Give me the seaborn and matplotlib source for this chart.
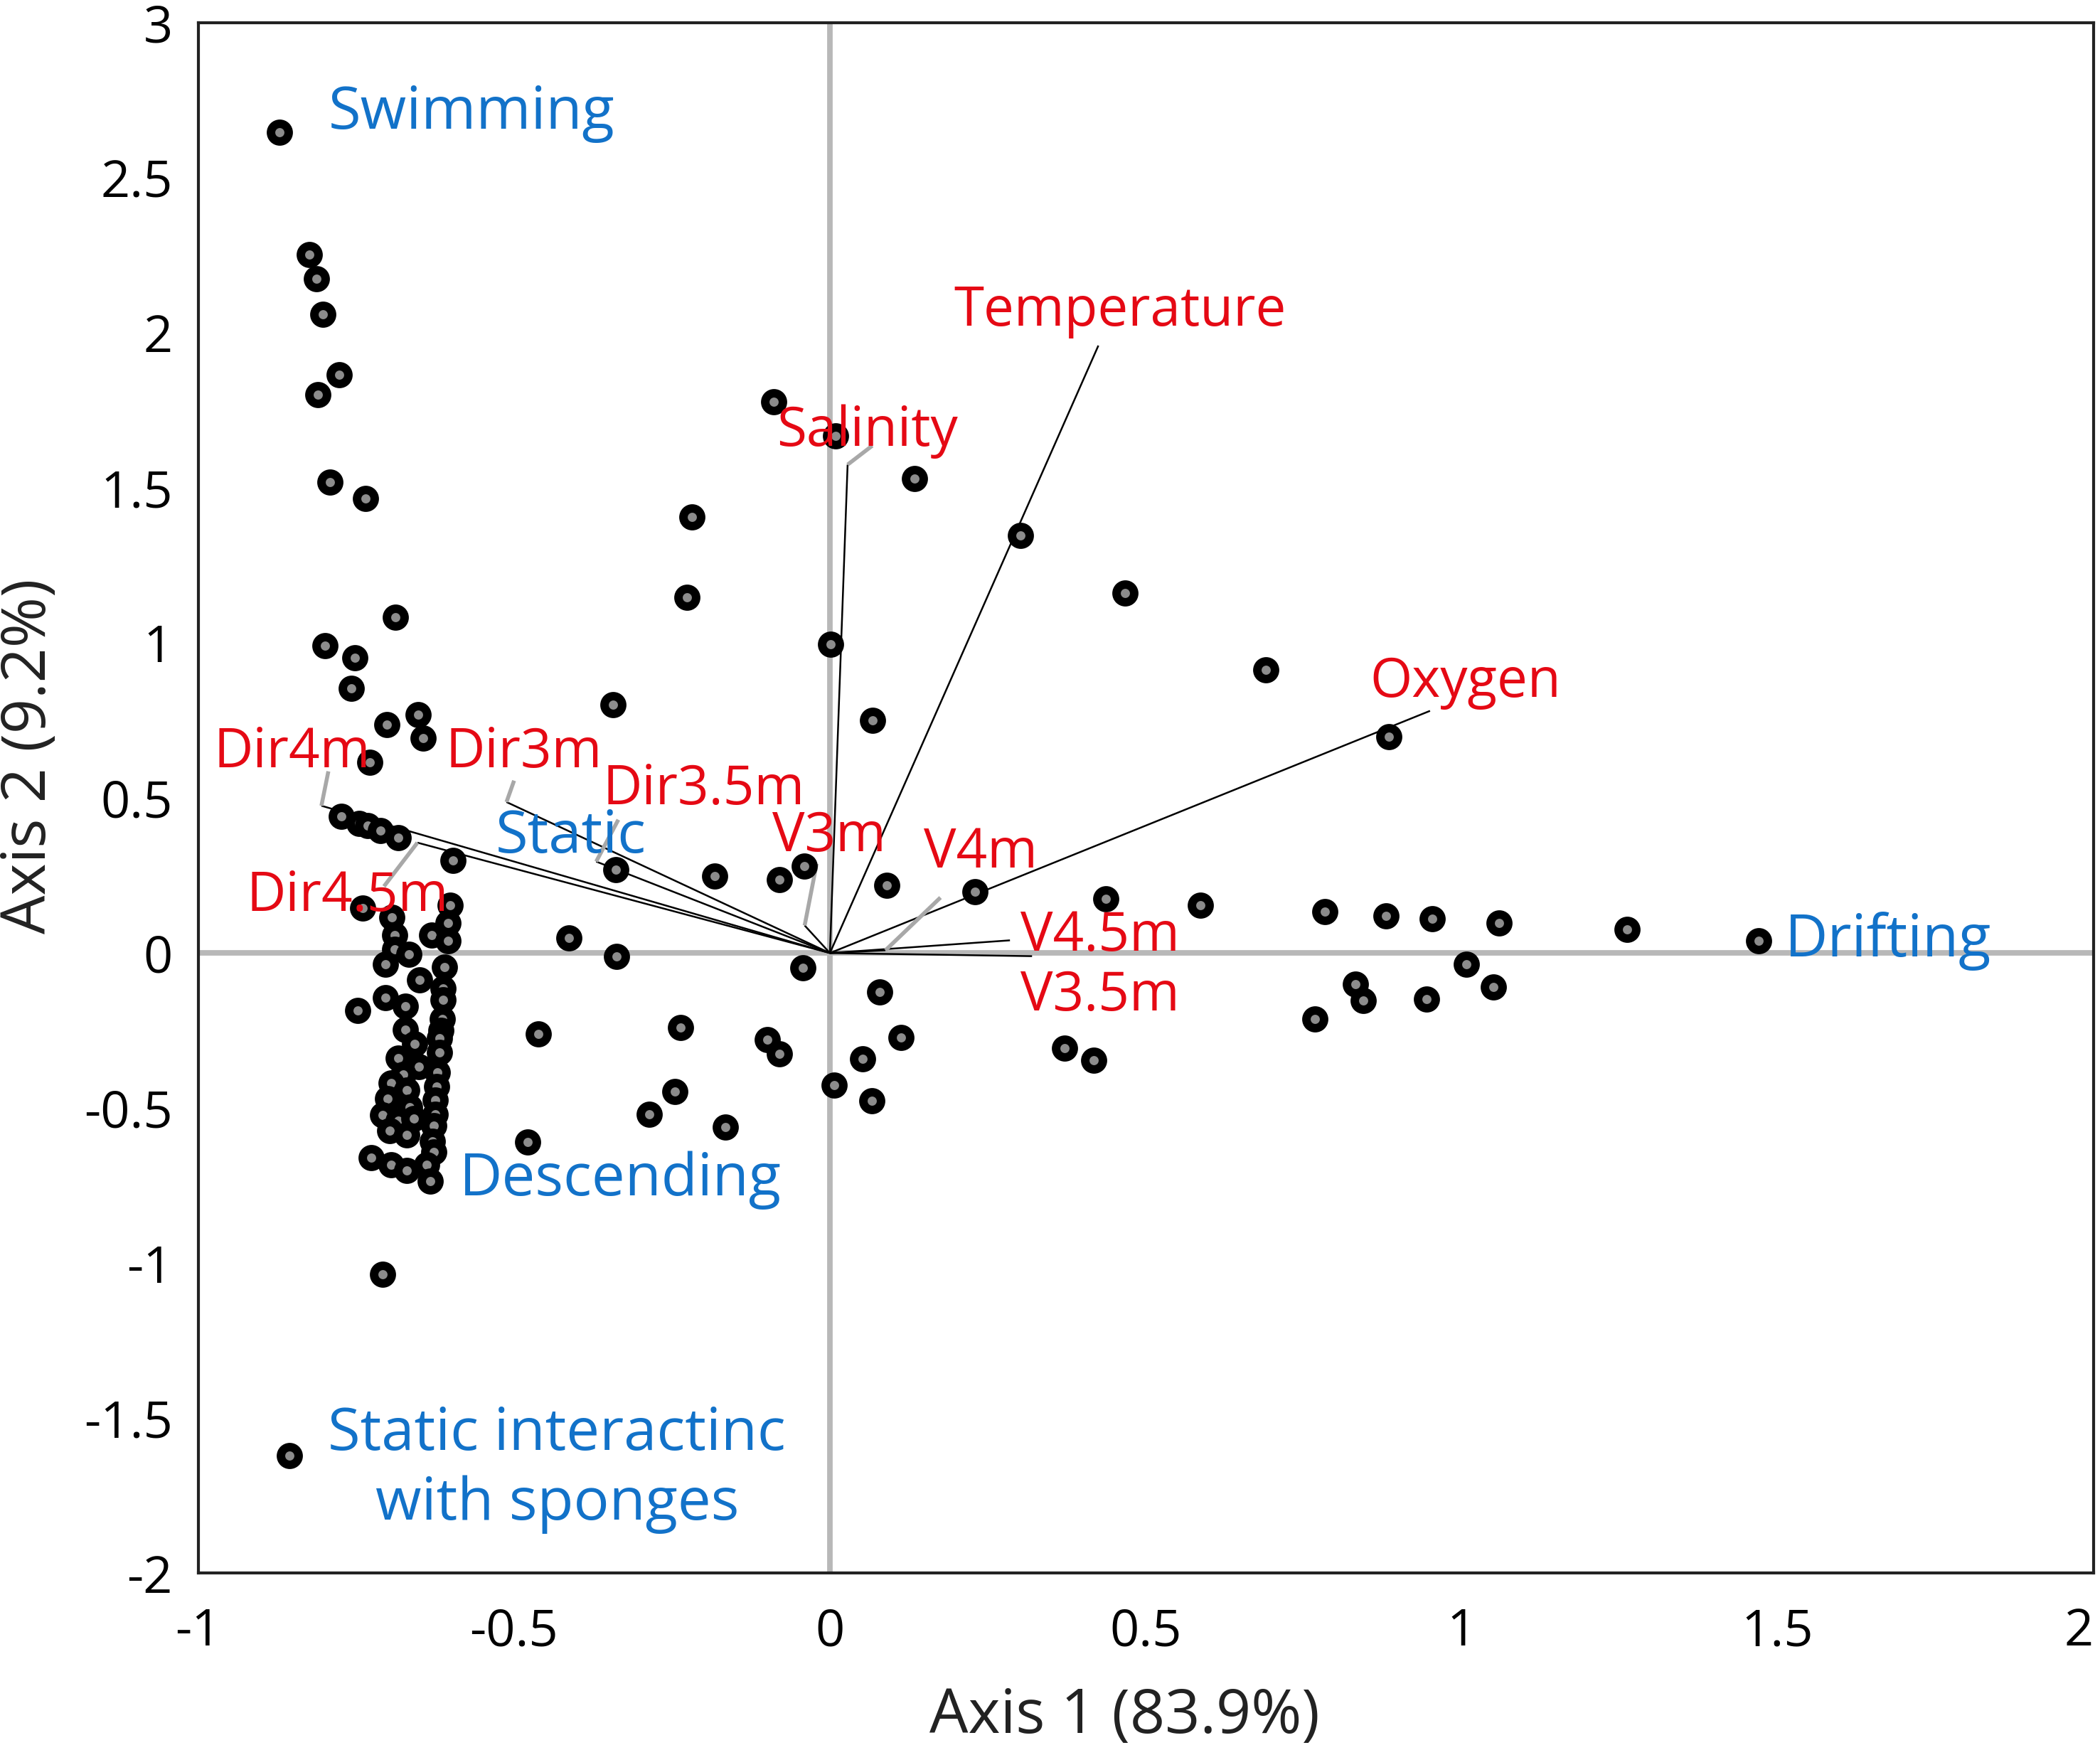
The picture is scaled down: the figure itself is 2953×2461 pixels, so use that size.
import numpy as np
import pandas as pd
import matplotlib
matplotlib.use("Agg")
import matplotlib.pyplot as plt
import seaborn as sns

# ---------------- data ----------------
site_x = [-0.871, -0.824, -0.813, -0.803, -0.777, -0.811, -0.792, -0.735, -0.688, -0.799,
          -0.752, -0.758, -0.701, -0.652, -0.644, -0.728,
          -0.774, -0.745, -0.732, -0.711, -0.683, -0.597,
          -0.740, -0.693, -0.601, -0.605, -0.631, -0.605, -0.689, -0.689, -0.666, -0.704,
          -0.610, -0.650, -0.612, -0.704, -0.672, -0.747, -0.614, -0.612, -0.616,
          -0.672, -0.657, -0.618, -0.618, -0.683, -0.651, -0.621, -0.676, -0.695, -0.670,
          -0.623, -0.700, -0.625, -0.665, -0.708, -0.683, -0.659, -0.625, -0.627, -0.697,
          -0.670, -0.629, -0.627, -0.726, -0.695, -0.670, -0.638, -0.633, -0.708, -0.856,
          -0.413, -0.339, -0.343, -0.338, -0.462, -0.479, -0.237, -0.245, -0.286, -0.166,
          -0.182, -0.218, -0.226, -0.089, -0.099, -0.080, -0.080, -0.040, -0.043, 0.001,
          0.009, 0.007, 0.068, 0.090, 0.079, 0.052, 0.066, 0.113, 0.134, 0.230,
          0.302, 0.467, 0.437, 0.372, 0.418, 0.586, 0.690, 0.885, 0.783, 0.880,
          0.953, 1.059, 0.768, 0.832, 0.844, 0.944, 1.008, 1.050, 1.262, 1.470]
site_y = [2.646, 2.253, 2.175, 2.059, 1.864, 1.800, 1.519, 1.467, 1.083, 0.992,
          0.953, 0.854, 0.737, 0.768, 0.694, 0.616,
          0.441, 0.418, 0.410, 0.395, 0.372, 0.298,
          0.146, 0.116, 0.154, 0.097, 0.058, 0.039, 0.058, 0.013, -0.003, -0.037,
          -0.045, -0.087, -0.113, -0.144, -0.171, -0.186, -0.213, -0.150, -0.250,
          -0.247, -0.293, -0.274, -0.320, -0.339, -0.366, -0.385, -0.392, -0.419, -0.442,
          -0.431, -0.469, -0.473, -0.496, -0.522, -0.541, -0.534, -0.519, -0.557, -0.572,
          -0.587, -0.606, -0.641, -0.660, -0.683, -0.702, -0.683, -0.736, -1.035, -1.620,
          0.049, 0.269, 0.802, -0.010, -0.261, -0.610, -0.241, -0.446, -0.520, -0.561,
          0.249, 1.407, 1.148, 1.778, -0.279, -0.324, 0.237, 0.280, -0.047, 0.996,
          1.667, -0.425, 0.750, 0.219, -0.126, -0.342, -0.476, -0.273, 1.530, 0.198,
          1.346, 1.161, 0.176, -0.307, -0.346, 0.155, 0.914, 0.698, 0.133, 0.120,
          0.111, 0.098, -0.212, -0.100, -0.152, -0.148, -0.035, -0.109, 0.077, 0.040]

var_names = ["Temperature", "Oxygen", "Salinity", "Dir4m", "Dir3m", "Dir3.5m",
             "Dir4.5m", "V3m", "V4m", "V4.5m", "V3.5m"]
var_x = [0.425, 0.950, 0.028, -0.805, -0.512, -0.370, -0.653, -0.040, 0.088, 0.285, 0.320]
var_y = [1.959, 0.781, 1.575, 0.475, 0.487, 0.295, 0.356, 0.089, 0.009, 0.041, -0.010]
# leader (label connector) end points, NaN = no leader
lead_x = [np.nan, np.nan, 0.067, -0.794, -0.500, -0.335, -0.706, -0.021, 0.175, np.nan, np.nan]
lead_y = [np.nan, np.nan, 1.636, 0.586, 0.556, 0.430, 0.215, 0.288, 0.179, np.nan, np.nan]
# label anchors (left, baseline)
var_lab_x = [0.196, 0.855, -0.084, -0.975, -0.608, -0.360, -0.924, -0.091, 0.149, 0.302, 0.302]
var_lab_y = [2.024, 0.826, 1.636, 0.599, 0.599, 0.479, 0.137, 0.328, 0.276, 0.008, -0.186]

group_names = ["Swimming", "Static", "Descending", "Drifting",
               "Static interactinc", "with sponges"]
group_x = [-0.794, -0.529, -0.587, 1.512, -0.432, -0.432]
group_y = [2.659, 0.323, -0.782, -0.010, -1.603, -1.827]
group_ha = ["left", "left", "left", "left", "center", "center"]

x_ticks = [-1, -0.5, 0, 0.5, 1, 1.5, 2]
x_tick_labels = ["-1", "-0.5", "0", "0.5", "1", "1.5", "2"]
y_ticks = [-2, -1.5, -1, -0.5, 0, 0.5, 1, 1.5, 2, 2.5, 3]
y_tick_labels = ["-2", "-1.5", "-1", "-0.5", "0", "0.5", "1", "1.5", "2", "2.5", "3"]

# ---------------- style ----------------
sns.set_theme(style="white")
plt.rcParams["font.family"] = ["Open Sans", "DejaVu Sans"]
plt.rcParams["axes.unicode_minus"] = False

RED = "#e50914"
BLUE = "#1272c9"

fig = plt.figure(figsize=(2953 / 200, 2461 / 200), dpi=200)
ax = fig.add_axes([0.0944, 0.101, 0.9024, 0.886])

ax.axhline(0, color="#b8b8b8", lw=2.8, zorder=1)
ax.axvline(0, color="#b8b8b8", lw=2.8, zorder=1)

for vx, vy in zip(var_x, var_y):
    ax.plot([0, vx], [0, vy], color="black", lw=0.9, zorder=2, solid_capstyle="butt")
for vx, vy, lx, ly in zip(var_x, var_y, lead_x, lead_y):
    if not np.isnan(lx):
        ax.plot([vx, lx], [vy, ly], color="#a8a8a8", lw=2.0, zorder=2,
                solid_capstyle="butt")

df = pd.DataFrame({"Axis1": site_x, "Axis2": site_y})
sns.scatterplot(data=df, x="Axis1", y="Axis2", ax=ax, s=80, color="#8c8c8c",
                edgecolor="black", linewidth=4.3, zorder=3, legend=False)

for name, tx, ty in zip(var_names, var_lab_x, var_lab_y):
    ax.text(tx, ty, name, color=RED, fontsize=27.5, ha="left", va="baseline", zorder=4)
for name, tx, ty, ha in zip(group_names, group_x, group_y, group_ha):
    ax.text(tx, ty, name, color=BLUE, fontsize=30, ha=ha, va="baseline", zorder=4)

ax.set_xlim(-1, 2)
ax.set_ylim(-2, 3)
ax.set_xticks(x_ticks)
ax.set_xticklabels(x_tick_labels)
ax.set_yticks(y_ticks)
ax.set_yticklabels(y_tick_labels)
ax.tick_params(axis="both", length=0, labelsize=26, colors="black")
ax.tick_params(axis="x", pad=17)
ax.tick_params(axis="y", pad=13)
ax.get_xticklabels()[-1].set_horizontalalignment("right")

for sp in ax.spines.values():
    sp.set_visible(True)
    sp.set_color("#222222")
    sp.set_linewidth(1.5)

ax.set_xlabel("Axis 1 (83.9%)", fontsize=31, color="#222222")
ax.set_ylabel("Axis 2 (9.2%)", fontsize=31, color="#222222")
ax.xaxis.label.set_va("center")
ax.yaxis.label.set_va("center")
ax.xaxis.set_label_coords(0.489, -0.093)
ax.yaxis.set_label_coords(-0.089, 0.527)

fig.savefig("out.png", dpi=200, facecolor="white")
